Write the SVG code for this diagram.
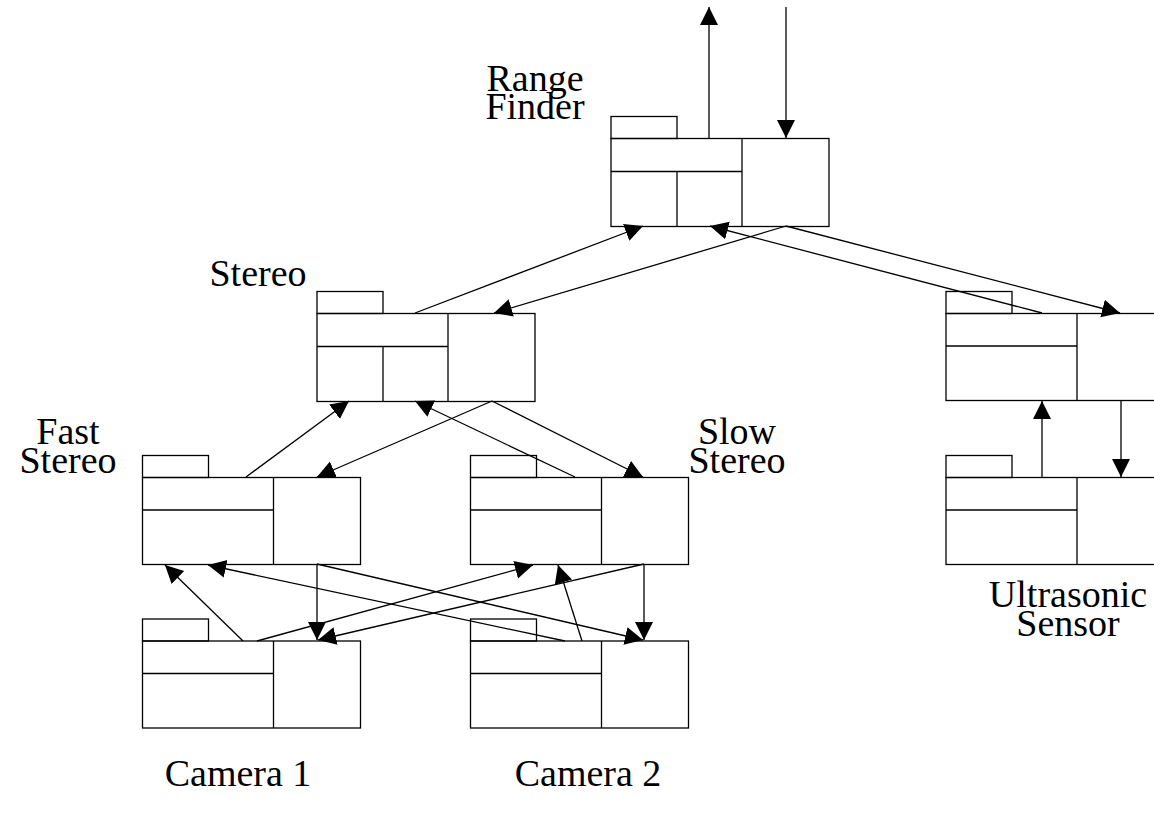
<svg xmlns="http://www.w3.org/2000/svg" xmlns:xlink="http://www.w3.org/1999/xlink" width="1154" height="816" viewBox="0 0 1154 816">
<style>
.box{fill:none;stroke:#000;stroke-width:1.3}
.ln{fill:none;stroke:#000;stroke-width:1.3}
.conn line{stroke:#000;stroke-width:1.3;marker-end:url(#ah)}
.lbl{font-family:"Liberation Serif","Times New Roman",serif;font-size:38px;fill:#000;text-anchor:middle}
</style>
<defs>
<marker id="ah" markerUnits="userSpaceOnUse" markerWidth="20" markerHeight="20" refX="18" refY="9" orient="auto" viewBox="0 0 20 20">
<path d="M0,0 L18,9 L0,18 z" fill="#000"/>
</marker>
<g id="pkgA">
<rect class="box" x="0" y="-22" width="66" height="22"/>
<rect class="box" x="0" y="0" width="218" height="88"/>
<line class="ln" x1="131" y1="0" x2="131" y2="88"/>
<line class="ln" x1="0" y1="33" x2="131" y2="33"/>
<line class="ln" x1="66" y1="33" x2="66" y2="88"/>
</g>
<g id="pkgB">
<rect class="box" x="0" y="-22" width="66" height="22"/>
<rect class="box" x="0" y="0" width="218" height="87"/>
<line class="ln" x1="131" y1="0" x2="131" y2="87"/>
<line class="ln" x1="0" y1="32.5" x2="131" y2="32.5"/>
</g>
</defs>
<rect width="1154" height="816" fill="#fff"/>
<g id="range-finder">
<use xlink:href="#pkgA" href="#pkgA" x="611" y="138.5"/>
<text class="lbl" x="535" y="91">Range</text>
<text class="lbl" x="535" y="119">Finder</text>
</g>
<g id="stereo">
<use xlink:href="#pkgA" href="#pkgA" x="317" y="313.5"/>
<text class="lbl" x="258" y="286">Stereo</text>
</g>
<g id="fast-stereo">
<use xlink:href="#pkgB" href="#pkgB" x="142.5" y="477.5"/>
<text class="lbl" x="68" y="444">Fast</text>
<text class="lbl" x="68" y="473">Stereo</text>
</g>
<g id="slow-stereo">
<use xlink:href="#pkgB" href="#pkgB" x="470.5" y="477.5"/>
<text class="lbl" x="737" y="444">Slow</text>
<text class="lbl" x="737" y="473">Stereo</text>
</g>
<g id="camera-1">
<use xlink:href="#pkgB" href="#pkgB" x="142.5" y="641"/>
<text class="lbl" x="238" y="786">Camera 1</text>
</g>
<g id="camera-2">
<use xlink:href="#pkgB" href="#pkgB" x="470.5" y="641"/>
<text class="lbl" x="588" y="786">Camera 2</text>
</g>
<g id="ultrasonic-upper">
<use xlink:href="#pkgB" href="#pkgB" x="946" y="313.5"/>
</g>
<g id="ultrasonic-sensor">
<use xlink:href="#pkgB" href="#pkgB" x="946" y="477.5"/>
<text class="lbl" x="1068" y="607">Ultrasonic</text>
<text class="lbl" x="1068" y="636">Sensor</text>
</g>
<g id="connectors" class="conn">
<line x1="709" y1="138" x2="709" y2="7"/>
<line x1="786" y1="7" x2="786" y2="138"/>
<line x1="415" y1="313" x2="643" y2="226"/>
<line x1="786" y1="226" x2="494" y2="313"/>
<line x1="1042" y1="313" x2="710" y2="226"/>
<line x1="786" y1="226" x2="1120" y2="313"/>
<line x1="246" y1="477" x2="349" y2="401"/>
<line x1="492" y1="401" x2="317" y2="477"/>
<line x1="492" y1="401" x2="643" y2="477"/>
<line x1="575" y1="477" x2="415" y2="401"/>
<line x1="1042" y1="477" x2="1042" y2="401"/>
<line x1="1121" y1="401" x2="1121" y2="477"/>
<line x1="243" y1="641" x2="165" y2="565"/>
<line x1="565" y1="641" x2="208" y2="565"/>
<line x1="317" y1="564" x2="317" y2="640"/>
<line x1="317" y1="564" x2="643" y2="640"/>
<line x1="257" y1="641" x2="533" y2="565"/>
<line x1="644" y1="564" x2="318" y2="640"/>
<line x1="644" y1="564" x2="644" y2="640"/>
<line x1="582" y1="641" x2="558" y2="565"/>
</g>
</svg>
